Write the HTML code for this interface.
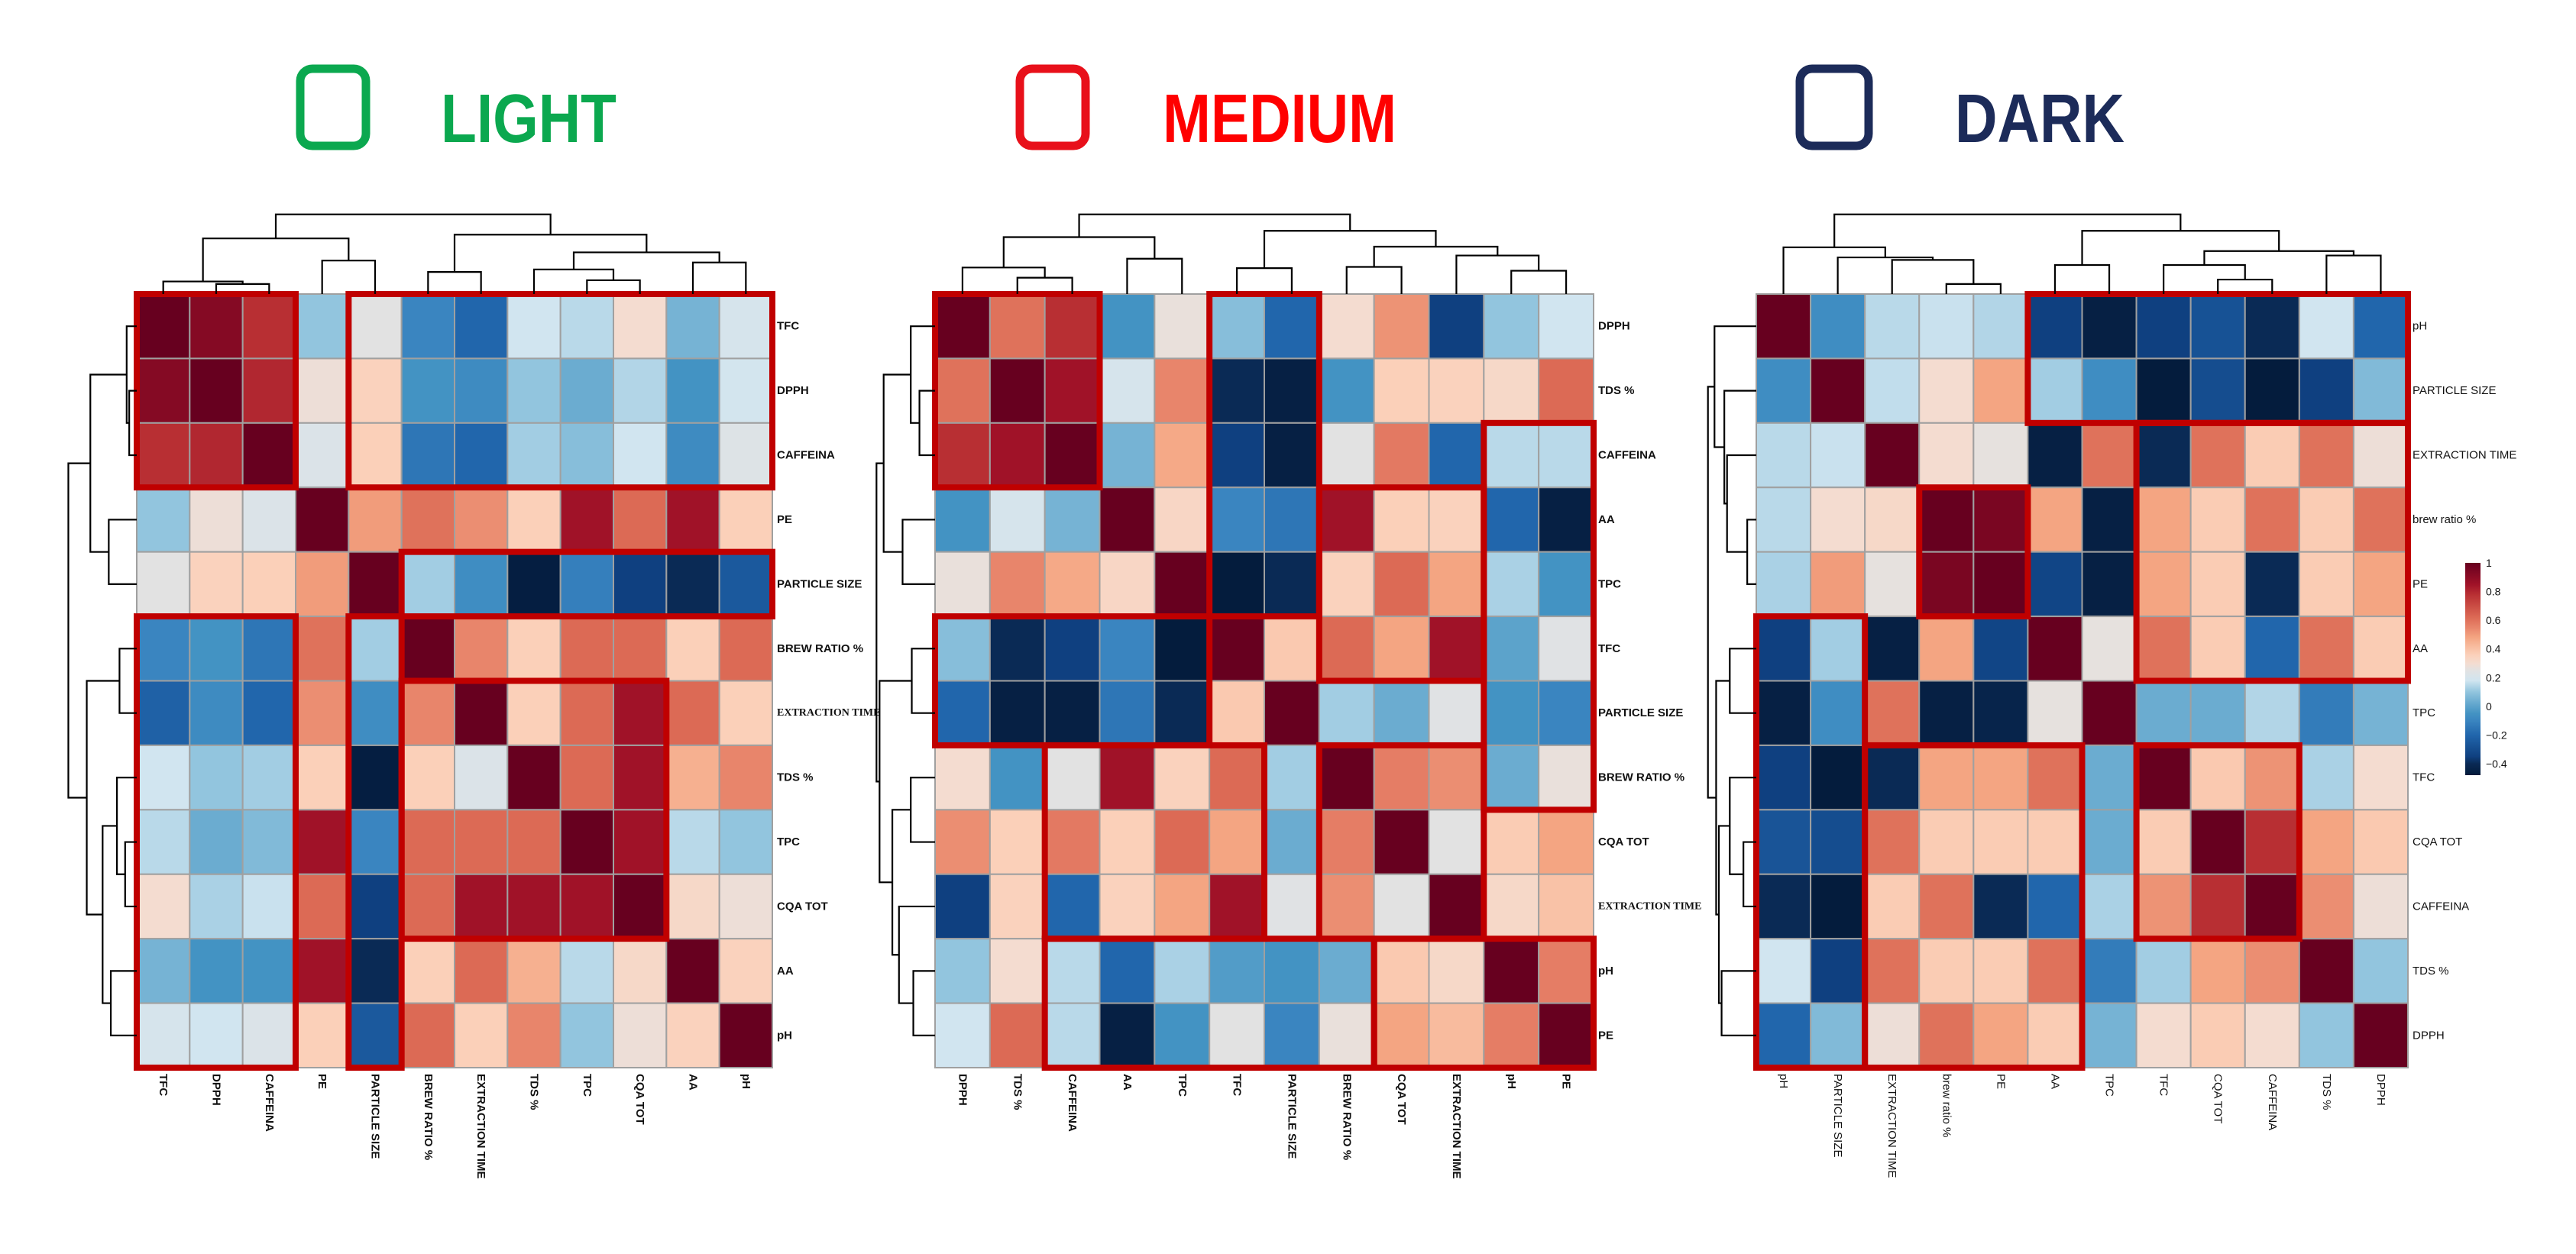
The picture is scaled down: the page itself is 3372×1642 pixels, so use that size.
<!DOCTYPE html>
<html><head><meta charset="utf-8"><style>
html,body{margin:0;padding:0;background:#fff;}
svg{display:block;}
</style></head><body>
<svg id="fig" width="3372" height="1642" viewBox="0 0 3372 1642" xmlns="http://www.w3.org/2000/svg" font-family="Liberation Sans, Arial, sans-serif">
<rect x="0" y="0" width="3372" height="1642" fill="#fff"/>
<g>
<rect x="393" y="90" width="86" height="101" rx="16" fill="none" stroke="#0ba84f" stroke-width="11"/>
<text x="577" y="186" font-size="90" font-weight="bold" fill="#0ba84f" textLength="230" lengthAdjust="spacingAndGlyphs">LIGHT</text>
</g>
<g>
<rect x="1335" y="90" width="86" height="101" rx="16" fill="none" stroke="#e8101a" stroke-width="11"/>
<text x="1522" y="186" font-size="90" font-weight="bold" fill="#f00" textLength="306" lengthAdjust="spacingAndGlyphs">MEDIUM</text>
</g>
<g>
<rect x="2356" y="90" width="90" height="101" rx="16" fill="none" stroke="#1c2b59" stroke-width="11"/>
<text x="2559" y="186" font-size="90" font-weight="bold" fill="#1c2b59" textLength="222" lengthAdjust="spacingAndGlyphs">DARK</text>
</g>
</svg>
<script>
// ---------- DATA ----------
const lightLabels = ["TFC","DPPH","CAFFEINA","PE","PARTICLE SIZE","BREW RATIO %","EXTRACTION TIME","TDS %","TPC","CQA  TOT","AA","pH"];
const lightValues = [
[1,0.92,0.78,0.1,0.25,-0.1,-0.2,0.18,0.15,0.3,0.05,0.2],
[0.92,1,0.8,0.28,0.35,-0.05,-0.08,0.1,0.03,0.14,-0.05,0.19],
[0.78,0.8,1,0.22,0.36,-0.15,-0.2,0.12,0.08,0.18,-0.08,0.23],
[0.1,0.28,0.22,1,0.5,0.6,0.53,0.36,0.85,0.62,0.85,0.36],
[0.25,0.35,0.36,0.5,1,0.12,-0.07,-0.46,-0.12,-0.35,-0.4,-0.25],
[-0.1,-0.05,-0.15,0.6,0.12,1,0.55,0.36,0.62,0.62,0.36,0.62],
[-0.22,-0.08,-0.2,0.53,-0.07,0.55,1,0.36,0.62,0.85,0.62,0.36],
[0.18,0.1,0.12,0.36,-0.46,0.36,0.22,1,0.62,0.85,0.45,0.55],
[0.15,0.03,0.07,0.85,-0.1,0.62,0.62,0.62,1,0.85,0.15,0.1],
[0.3,0.13,0.17,0.62,-0.35,0.62,0.85,0.85,0.85,1,0.32,0.28],
[0.05,-0.05,-0.05,0.85,-0.4,0.36,0.62,0.45,0.15,0.32,1,0.35],
[0.2,0.18,0.22,0.36,-0.25,0.62,0.36,0.55,0.1,0.28,0.35,1]];
const mediumLabels = ["DPPH","TDS %","CAFFEINA","AA","TPC","TFC","PARTICLE SIZE","BREW RATIO %","CQA TOT","EXTRACTION TIME","pH","PE"];
const mediumValues = [
[1,0.6,0.78,-0.05,0.27,0.08,-0.2,0.3,0.52,-0.35,0.1,0.18],
[0.6,1,0.85,0.2,0.55,-0.4,-0.45,-0.05,0.36,0.35,0.32,0.62],
[0.78,0.85,1,0.05,0.47,-0.35,-0.45,0.25,0.58,-0.2,0.15,0.15],
[-0.05,0.2,0.05,1,0.33,-0.1,-0.15,0.85,0.36,0.35,-0.2,-0.45],
[0.27,0.55,0.47,0.33,1,-0.47,-0.4,0.35,0.62,0.48,0.13,-0.05],
[0.08,-0.4,-0.35,-0.1,-0.47,1,0.38,0.62,0.48,0.85,0.0,0.24],
[-0.2,-0.45,-0.45,-0.15,-0.4,0.38,1,0.12,0.03,0.24,-0.05,-0.1],
[0.3,-0.05,0.25,0.85,0.35,0.62,0.12,1,0.57,0.53,0.03,0.27],
[0.53,0.36,0.58,0.36,0.62,0.48,0.03,0.57,1,0.25,0.37,0.48],
[-0.35,0.35,-0.2,0.35,0.48,0.85,0.24,0.53,0.25,1,0.32,0.4],
[0.1,0.3,0.15,-0.2,0.13,-0.02,-0.05,0.03,0.38,0.32,1,0.57],
[0.18,0.62,0.15,-0.45,-0.05,0.25,-0.1,0.27,0.48,0.42,0.57,1]];
const darkLabels = ["pH","PARTICLE SIZE","EXTRACTION TIME","brew ratio %","PE","AA","TPC","TFC","CQA TOT","CAFFEINA","TDS %","DPPH"];
const darkValues = [
[1,-0.07,0.15,0.17,0.14,-0.35,-0.45,-0.35,-0.28,-0.4,0.18,-0.2],
[-0.07,1,0.16,0.3,0.48,0.12,-0.07,-0.47,-0.3,-0.47,-0.35,0.07],
[0.15,0.17,1,0.3,0.26,-0.45,0.6,-0.4,0.6,0.37,0.6,0.28],
[0.15,0.3,0.32,1,0.95,0.48,-0.45,0.48,0.37,0.6,0.37,0.6],
[0.13,0.5,0.26,0.95,1,-0.33,-0.45,0.48,0.37,-0.4,0.37,0.48],
[-0.35,0.12,-0.45,0.48,-0.33,1,0.26,0.6,0.37,-0.2,0.6,0.37],
[-0.45,-0.07,0.6,-0.45,-0.43,0.26,1,0.03,0.03,0.14,-0.13,0.05],
[-0.35,-0.47,-0.4,0.48,0.48,0.6,0.03,1,0.38,0.52,0.13,0.3],
[-0.27,-0.3,0.6,0.37,0.37,0.37,0.03,0.37,1,0.78,0.48,0.38],
[-0.4,-0.47,0.37,0.6,-0.4,-0.2,0.13,0.52,0.78,1,0.53,0.28],
[0.18,-0.35,0.6,0.37,0.37,0.6,-0.13,0.12,0.48,0.53,1,0.1],
[-0.2,0.07,0.28,0.6,0.48,0.37,0.05,0.3,0.37,0.3,0.1,1]];
const colorbarTicks = [1,0.8,0.6,0.4,0.2,0,-0.2,-0.4];
const colorbarTickLabels = ["1","0.8","0.6","0.4","0.2","0","\u22120.2","\u22120.4"];
const lightBoxes = [[0,0,3,3],[0,4,3,12],[4,5,5,12],[5,0,12,3],[5,4,12,5],[6,5,10,10]];
const mediumBoxes = [[0,0,3,3],[0,5,5,7],[5,0,7,5],[2,10,8,12],[3,7,6,10],[7,2,10,6],[7,7,10,10],[10,2,12,8],[10,8,12,12]];
const darkBoxes = [[0,5,2,12],[2,7,6,12],[3,3,5,5],[5,0,12,2],[7,2,12,6],[7,7,10,10]];
const lightTopTree = [37,[75,[143,0,[147,1,2]],[110,3,4]],[69,[128,5,6],[97,[124,7,[141,8,9]],[113,10,11]]]];
const lightLeftTree = [44,[87,[158,0,[163,1,2]],[123,3,4]],[80,[144,5,6],[111,[139,7,[155,8,9]],[127,10,11]]]];
const mediumTopTree = [37,[73,[121,0,[137,1,2]],[107,3,4]],[63,[122,5,6],[88,[120,7,8],[102,9,[126,10,11]]]]];
const mediumLeftTree = [-4,[10,[63,0,[80,1,2]],[47,3,4]],[2,[65,5,6],[27,[63,7,8],[40,9,[68,10,11]]]]];
const darkTopTree = [37,[89,0,[105,1,[109,2,[147,3,4]]]],[63,[117,5,6],[95,[117,7,[140,8,9]],[102,10,11]]]];
const darkLeftTree = [-20,[-8,0,[10,1,[15,2,[52,3,4]]]],[-5,[20,5,6],[0,[20,7,[45,8,9]],[5,10,11]]]];

// ---------- RENDER ----------
const NS = "http://www.w3.org/2000/svg";
const svg = document.getElementById("fig");
const VMIN = -0.48, VMAX = 1;
const cmapVals = [-0.48,-0.4,-0.35,-0.2,-0.1,-0.05,0.03,0.1,0.18,0.25,0.3,0.36,0.48,0.55,0.62,0.78,0.85,1];
const cmapCols = ["#031a3a","#0a2a55","#0f4080","#2166ac","#3a85c0","#4393c3","#6bacd0","#92c5de","#d1e5f0","#e2e2e2","#f4dcd0","#fbd0b9","#f4a582","#e8856b","#dc6a55","#b82f33","#a01228","#67001f"];
function hex(h){return [1,3,5].map(i=>parseInt(h.substr(i,2),16));}
function colorScale(v){
  v=Math.max(VMIN,Math.min(VMAX,v));
  let i=0; while(i<cmapVals.length-2 && v>cmapVals[i+1]) i++;
  const f=(v-cmapVals[i])/(cmapVals[i+1]-cmapVals[i]);
  const a=hex(cmapCols[i]), b=hex(cmapCols[i+1]);
  return "rgb("+a.map((x,k)=>Math.round(x+(b[k]-x)*f)).join(",")+")";
}
function mk(tag, attrs, parent){
  const e=document.createElementNS(NS,tag);
  for(const k in attrs) e.setAttribute(k,attrs[k]);
  (parent||svg).appendChild(e); return e;
}
function drawPanel(cfg){
  const g = mk("g",{});
  
  
  const n = cfg.labels.length;
  const cw=(cfg.x1-cfg.x0)/n, ch=(cfg.y1-cfg.y0)/n;
  const xs=i=>cfg.x0+i*cw, ys=i=>cfg.y0+i*ch;
  for(let r=0;r<n;r++)for(let c=0;c<n;c++){
    const rect=mk("rect",{x:xs(c),y:ys(r),width:cw,height:ch,fill:colorScale(cfg.values[r][c]),stroke:"#a0a0a0","stroke-width":2},g);
    
    
  }
  cfg.boxes.forEach((b,i)=>{
    const rr=mk("rect",{x:xs(b[1]),y:ys(b[0]),width:xs(b[3])-xs(b[1]),height:ys(b[2])-ys(b[0]),fill:"none",stroke:"#c00000","stroke-width":8},g);
    
    
  });
  cfg.labels.forEach((lab,i)=>{
    const serif = lab.indexOf("EXTRACTION")===0 && cfg.serifRow;
    const t=mk("text",{x:cfg.x1+6,y:ys(i)+ch/2,"font-size":serif?14:15,"font-weight":cfg.bold?"bold":"normal","dominant-baseline":"central",fill:"#111","font-family":serif?"Liberation Serif, serif":"Liberation Sans, sans-serif"},g);
    t.textContent=lab;
    
    
    const cx=xs(i)+cw/2, y=cfg.y1+8;
    const t2=mk("text",{x:cx,y:y,"font-size":15,"font-weight":cfg.bold?"bold":"normal","dominant-baseline":"central",fill:"#111",transform:"rotate(90 "+cx+" "+y+")"},g);
    t2.textContent=lab;
    
    
  });
  const dg=mk("g",{stroke:"#000","stroke-width":2.2,fill:"none"},g);
  
  
  function topPos(node){
    if(typeof node==="number") return [xs(node)+cw/2, cfg.y0];
    const y=cfg.topY(node[0]), L=topPos(node[1]), R=topPos(node[2]);
    mk("path",{d:"M"+L[0]+" "+L[1]+"V"+y+"H"+R[0]+"V"+R[1]},dg);
    return [(L[0]+R[0])/2,y];
  }
  function leftPos(node){
    if(typeof node==="number") return [cfg.x0, ys(node)+ch/2];
    const x=cfg.leftX(node[0]), L=leftPos(node[1]), R=leftPos(node[2]);
    mk("path",{d:"M"+L[0]+" "+L[1]+"H"+x+"V"+R[1]+"H"+R[0]},dg);
    return [x,(L[1]+R[1])/2];
  }
  topPos(cfg.topTree); leftPos(cfg.leftTree);
}
const topY = h=>250+h/1.206;
drawPanel({name:"light-heatmap",labels:lightLabels,values:lightValues,boxes:lightBoxes,x0:179,x1:1011,y0:385,y1:1398,bold:true,serifRow:true,
  topTree:lightTopTree,leftTree:lightLeftTree,topY:topY,leftX:h=>60+h/1.4933});
drawPanel({name:"medium-heatmap",labels:mediumLabels,values:mediumValues,boxes:mediumBoxes,x0:1224,x1:2086,y0:385,y1:1398,bold:true,serifRow:true,
  topTree:mediumTopTree,leftTree:mediumLeftTree,topY:topY,leftX:h=>1150+h/1.4933});
drawPanel({name:"dark-heatmap",labels:darkLabels,values:darkValues,boxes:darkBoxes,x0:2299,x1:3152,y0:385,y1:1398,bold:false,serifRow:false,
  topTree:darkTopTree,leftTree:darkLeftTree,topY:topY,leftX:h=>2250+h/1.4});

// colorbar
const cb=mk("g",{});


const defs=mk("defs",{},svg);
const lg=mk("linearGradient",{id:"cbg",x1:0,y1:1,x2:0,y2:0},defs);
cmapVals.forEach((v,i)=>mk("stop",{offset:(v-VMIN)/(VMAX-VMIN),"stop-color":cmapCols[i]},lg));
const CB_TOP=737, CB_BOT=1015;
const cbY=v=>CB_TOP+(VMAX-v)/(VMAX-VMIN)*(CB_BOT-CB_TOP);
const bar=mk("rect",{x:3227,y:CB_TOP,width:20,height:CB_BOT-CB_TOP,fill:"url(#cbg)"},cb);


colorbarTicks.forEach((v,i)=>{
  const t=mk("text",{x:3254,y:cbY(v),"font-size":14,"dominant-baseline":"central",fill:"#111"},cb);
  t.textContent=colorbarTickLabels[i];
  
  
});
</script>
</body></html>
